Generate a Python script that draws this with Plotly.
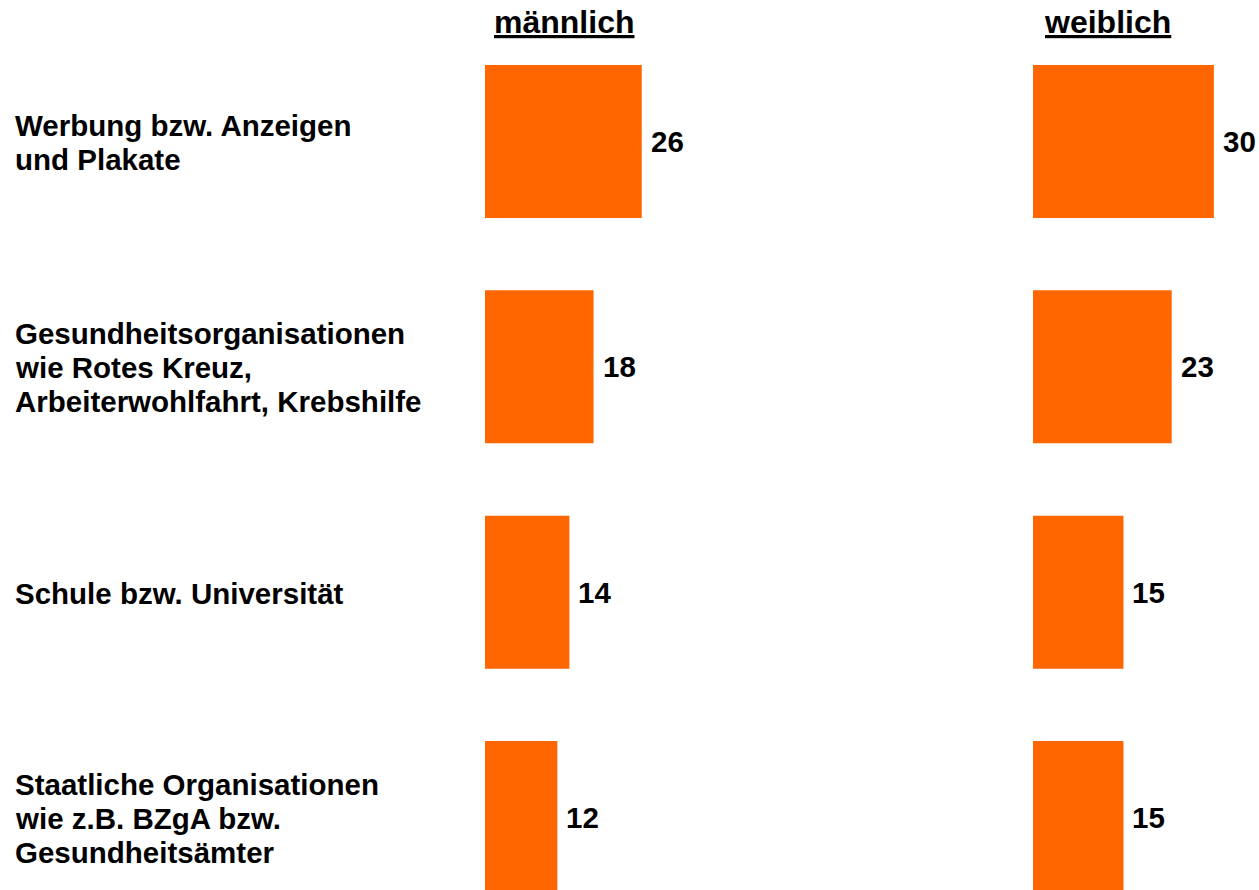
import plotly.graph_objects as go

# ---- data ----
categories = [
    "Werbung bzw. Anzeigen<br>und Plakate",
    "Gesundheitsorganisationen<br>wie Rotes Kreuz,<br>Arbeiterwohlfahrt, Krebshilfe",
    "Schule bzw. Universität",
    "Staatliche Organisationen<br>wie z.B. BZgA bzw.<br>Gesundheitsämter",
]
groups = ["männlich", "weiblich"]
maennlich = [26, 18, 14, 12]
weiblich = [30, 23, 15, 15]

# ---- style ----
W, H = 1259, 890
FONT = "Liberation Sans, Arial, Helvetica, sans-serif"
ORANGE = "#FF6600"
LINE_PX = 34
TXT = 29.5

ypos = list(range(len(categories)))
fig = go.Figure()
series = [maennlich, weiblich]
axes = ["x", "x2"]
for vals, ax in zip(series, axes):
    fig.add_trace(go.Bar(
        x=vals, y=ypos, orientation="h", xaxis=ax, yaxis="y",
        marker=dict(color=ORANGE, line=dict(width=0)),
        width=0.679, hoverinfo="skip", showlegend=False,
    ))

annotations = []
# group titles
title_centers = [564, 1107]
for g, cx in zip(groups, title_centers):
    annotations.append(dict(
        text=f"<b><u>{g}</u></b>", x=cx / W, xref="paper", xanchor="center",
        y=1, yref="paper", yanchor="top", yshift=-2, showarrow=False,
        font=dict(family=FONT, size=32, color="black"),
    ))
# category labels, left aligned, one annotation per line
for i, cat in enumerate(categories):
    lines = cat.split("<br>")
    n = len(lines)
    for k, line in enumerate(lines):
        annotations.append(dict(
            text=f"<b>{line}</b>", x=13 / W, xref="paper", xanchor="left",
            y=i, yref="y", yanchor="middle", yshift=((n - 1) / 2 - k) * LINE_PX - 1,
            showarrow=False, font=dict(family=FONT, size=TXT, color="black"),
        ))
# value labels
for vals, ax in zip(series, axes):
    for i, v in enumerate(vals):
        annotations.append(dict(
            text=f"<b>{v}</b>", x=v, xref=ax, xanchor="left", xshift=7,
            y=i, yref="y", yanchor="middle", showarrow=False,
            font=dict(family=FONT, size=TXT, color="black"),
        ))

axis_common = dict(visible=False, showgrid=False, zeroline=False, range=[0, 34], fixedrange=True)
fig.update_layout(
    width=W, height=H,
    margin=dict(l=0, r=0, t=0, b=0, pad=0),
    paper_bgcolor="white", plot_bgcolor="white",
    xaxis=dict(domain=[485 / W, 690 / W], anchor="y", **axis_common),
    xaxis2=dict(domain=[1033 / W, 1238 / W], anchor="y", **axis_common),
    yaxis=dict(visible=False, range=[3.3218, -0.628], fixedrange=True),
    bargap=0.32,
    annotations=annotations,
    showlegend=False,
)

fig.write_html("out.html", config={"displayModeBar": False},
               post_script="document.body.style.margin='0';")
